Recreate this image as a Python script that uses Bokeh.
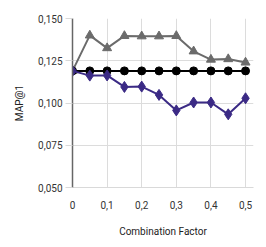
from bokeh.plotting import figure
from bokeh.models import Range1d, FixedTicker
from bokeh.embed import file_html
from bokeh.resources import INLINE

x_vals = [0, 0.05, 0.1, 0.15, 0.2, 0.25, 0.3, 0.35, 0.4, 0.45, 0.5]
gray_series = [0.119, 0.140, 0.1325, 0.1397, 0.1395, 0.1395, 0.1397, 0.1306, 0.1257, 0.126, 0.124]
black_series = [0.119, 0.119, 0.119, 0.119, 0.119, 0.119, 0.119, 0.119, 0.119, 0.119, 0.119]
purple_series = [0.119, 0.1162, 0.1163, 0.1095, 0.1097, 0.1048, 0.0956, 0.1003, 0.1003, 0.0933, 0.1028]

x_ticks = [0, 0.1, 0.2, 0.3, 0.4, 0.5]
x_tick_labels = ["0", "0,1", "0,2", "0,3", "0,4", "0,5"]
y_ticks = [0.05, 0.075, 0.1, 0.125, 0.15]
y_tick_labels = ["0,050", "0,075", "0,100", "0,125", "0,150"]

FONT = "Roboto"

p = figure(width=257, height=239, output_backend="svg", toolbar_location=None,
           x_range=Range1d(0, 0.523), y_range=Range1d(0.05, 0.15),
           min_border_left=72, min_border_right=4, min_border_top=18, min_border_bottom=48)
p.outline_line_color = None
p.background_fill_color = "white"

p.xaxis.ticker = FixedTicker(ticks=x_ticks)
p.yaxis.ticker = FixedTicker(ticks=y_ticks)
p.xaxis.major_label_overrides = dict(zip(x_ticks, x_tick_labels))
p.yaxis.major_label_overrides = dict(zip(y_ticks, y_tick_labels))

for ax in (p.xaxis, p.yaxis):
    ax.major_label_text_font = FONT
    ax.major_label_text_font_size = "10px"
    ax.major_label_text_color = "#333333"
    ax.axis_label_text_font = FONT
    ax.axis_label_text_font_size = "10px"
    ax.axis_label_text_font_style = "normal"
    ax.axis_label_text_color = "#222222"
    ax.minor_tick_line_color = None

p.xaxis.axis_label = "Combination Factor"
p.yaxis.axis_label = "MAP@1"
p.xaxis.axis_line_color = "#d9d9d9"
p.xaxis.major_tick_line_color = None
p.xaxis.major_label_standoff = 7
p.xaxis.axis_label_standoff = 14
p.yaxis.axis_line_color = "#666666"
p.yaxis.axis_line_width = 1.5
p.yaxis.major_tick_line_color = "#d9d9d9"
p.yaxis.major_tick_in = 0
p.yaxis.major_tick_out = 7
p.yaxis.major_label_standoff = 3
p.yaxis.axis_label_standoff = 10

p.xgrid.grid_line_color = "#dcdcdc"
p.ygrid.grid_line_color = "#dcdcdc"

gray = "#6b6b6b"
purple = "#3b2a85"

p.line(x_vals, gray_series, line_color=gray, line_width=2)
p.scatter(x_vals, gray_series, marker="triangle", size=9, color=gray)

p.line(x_vals, black_series, line_color="black", line_width=2)
p.scatter(x_vals, black_series, marker="circle", size=8, color="black")

p.line(x_vals, purple_series, line_color=purple, line_width=2)
p.scatter(x_vals, purple_series, marker="diamond", size=11, color=purple)

open("out.html", "w").write(file_html(p, INLINE))
